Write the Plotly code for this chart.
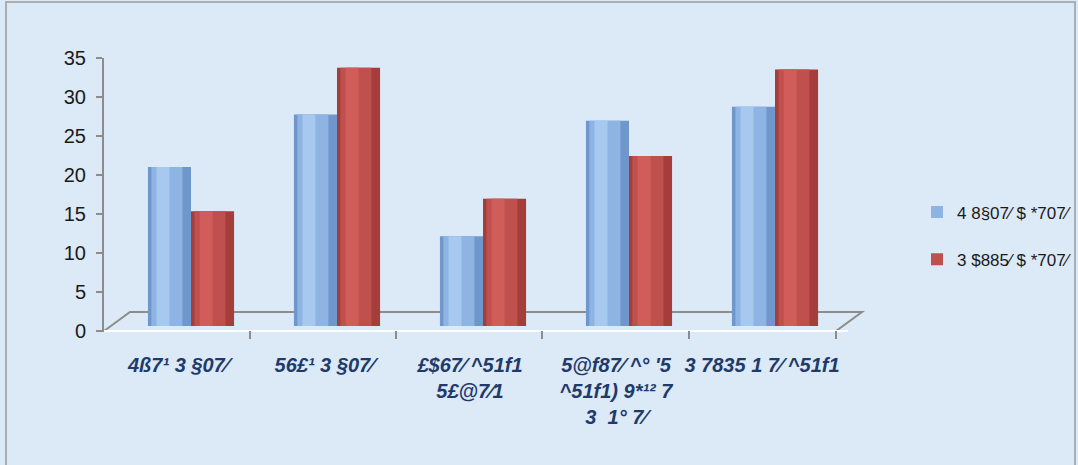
import plotly.graph_objects as go

categories = ["4ß7¹ 3 §07⁄", "56£¹ 3 §07⁄", "£$67⁄ ^51f1<br>5£@7⁄1",
              "5@f87⁄ ^° '5<br>^51f1) 9*¹² 7<br>3  1° 7⁄", "3 7835 1 7⁄ ^51f1"]
series_names = ["4 8§07⁄ $ *707⁄", "3 $885⁄ $ *707⁄"]
blue_values = [20.4, 27.1, 11.5, 26.3, 28.1]
red_values = [14.7, 33.1, 16.3, 21.8, 32.9]
y_ticks = [0, 5, 10, 15, 20, 25, 30, 35]

W, H = 1078, 465
L, R, T, B = 104, 230, 58, 134
pw = W - L - R
ph = H - T - B
def px(x): return (x - L) / pw
def py(y): return (H - B - y) / ph

bw = 0.295
fig = go.Figure()
styles = [
    (blue_values, series_names[0], -bw, ["#7097CB", "#8DB4E3", "#A7C9F0"], 1),
    (red_values, series_names[1], 0.0, ["#A53E3B", "#C0504D", "#D05D59"], 2),
]
for vals, name, off, cols, rank in styles:
    fig.add_trace(go.Bar(x=categories, y=vals, width=bw, offset=off, yaxis="y2",
                         marker=dict(color=cols[0], line=dict(width=0)),
                         showlegend=False, hoverinfo="skip"))
    fig.add_trace(go.Bar(name=name, x=categories, y=vals, width=bw * 0.72, offset=off + bw * 0.08,
                         yaxis="y2", marker=dict(color=cols[1], line=dict(width=0)),
                         showlegend=True, legendrank=rank, legendgroup=f"g{rank}"))
    fig.add_trace(go.Bar(x=categories, y=vals, width=bw * 0.3, offset=off + bw * 0.2, yaxis="y2",
                         marker=dict(color=cols[2], line=dict(width=0)),
                         showlegend=False, hoverinfo="skip"))
# invisible carrier for the shifted category label axis and the value axis
fig.add_trace(go.Scatter(x=categories, y=blue_values, xaxis="x2", yaxis="y", mode="markers",
                         marker=dict(opacity=0), showlegend=False, hoverinfo="skip"))

grey = "#8C8C8C"
floor = (f"M {px(104)} {py(331)} L {px(130)} {py(312)} L {px(862)} {py(312)} "
         f"L {px(836)} {py(331)} Z")
fig.add_shape(type="path", path=floor, xref="paper", yref="paper",
              line=dict(color=grey, width=2), layer="below")
for xt in [250, 396, 542, 689, 836]:
    fig.add_shape(type="line", x0=px(xt), x1=px(xt), y0=py(331), y1=py(339),
                  xref="paper", yref="paper", line=dict(color=grey, width=2))
fig.add_shape(type="rect", x0=px(6), x1=px(1075), y0=py(2), y1=py(475), xref="paper", yref="paper",
              line=dict(color="#9C9C9C", width=1.5), layer="below")

shift = 13 / 146
fig.update_layout(
    width=W, height=H,
    margin=dict(l=L, r=R, t=T, b=B, autoexpand=False),
    paper_bgcolor="#DCE9F6", plot_bgcolor="rgba(0,0,0,0)",
    barmode="overlay",
    font=dict(family="Liberation Sans, sans-serif", size=19, color="#1a1a1a"),
    showlegend=True,
    legend=dict(x=px(917), y=py(236), xanchor="left", yanchor="middle",
                font=dict(size=17, color="#1a1a1a"),
                bgcolor="rgba(0,0,0,0)",
                tracegroupgap=22, itemwidth=30, traceorder="grouped"),
    xaxis=dict(range=[-0.5 - 14 / 146, 4.5], showgrid=False, showline=False,
               showticklabels=False, ticks=""),
    xaxis2=dict(overlaying="x", range=[-0.5 - 14 / 146 + shift, 4.5 + shift], showgrid=False,
                showline=False, ticks="", side="bottom", ticklabelstandoff=20, tickangle=0,
                tickfont=dict(size=20, color="#1F3A6B", family="Liberation Sans, sans-serif",
                              weight="bold", style="italic")),
    yaxis=dict(range=[0, 35], tickvals=y_ticks, showgrid=False, showline=True, linecolor=grey,
               linewidth=2, ticks="outside", ticklen=6, tickcolor=grey, tickwidth=2,
               ticklabelstandoff=6, tickfont=dict(size=20, color="#1a1a1a")),
    yaxis2=dict(overlaying="y", range=[-5 / 7.8, 35 - 5 / 7.8], visible=False),
)
fig.write_html("out.html", config={"displayModeBar": False},
               post_script="document.body.style.margin='0';document.body.style.overflow='hidden';")
